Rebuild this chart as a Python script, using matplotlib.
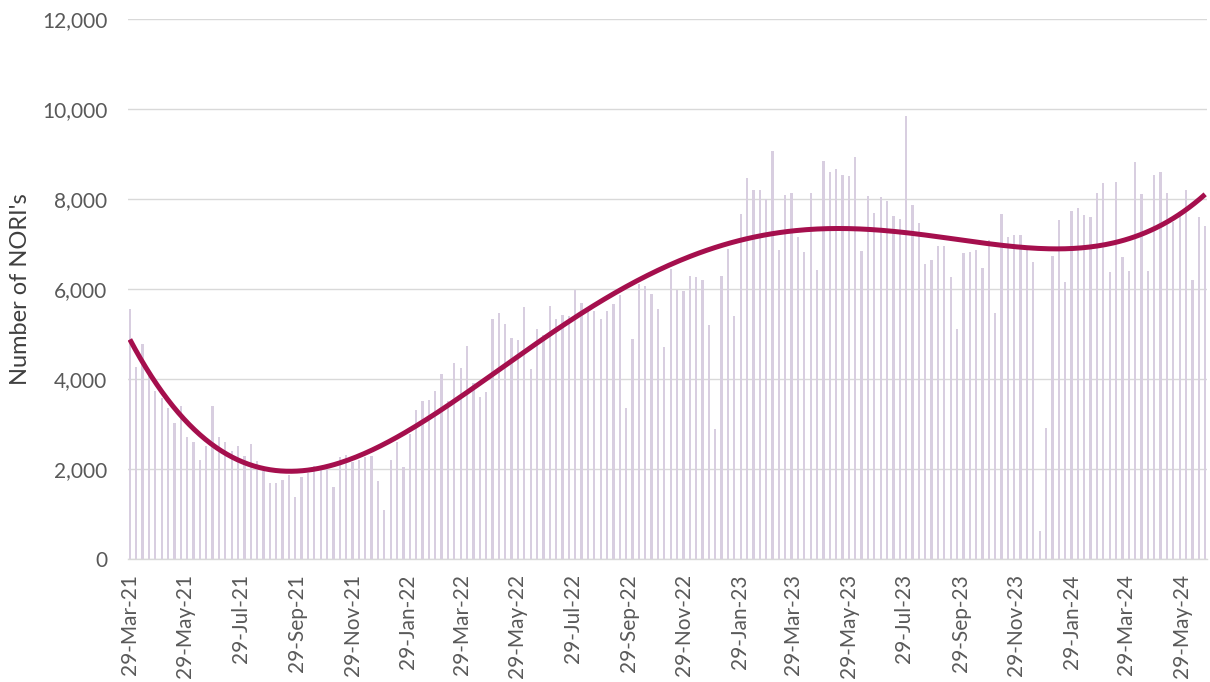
import numpy as np
import pandas as pd
import matplotlib
matplotlib.use('Agg')
import matplotlib.pyplot as plt
import matplotlib.dates as mdates
from matplotlib.ticker import FuncFormatter

# weekly NORI counts, starting 29-Mar-21
start_date = '2021-03-29'
nori_counts = [
    5550, 4270, 4780, 4100, 3730, 3570, 3350, 3030, 3400, 2720,
    2600, 2200, 2510, 3400, 2720, 2600, 2400, 2510, 2290, 2560,
    2180, 1950, 1680, 1680, 1760, 1870, 1370, 1815, 1900, 2060,
    1990, 1990, 1610, 2270, 2310, 2160, 2200, 2260, 2290, 1730,
    1090, 2210, 2590, 2040, 2780, 3310, 3500, 3530, 3740, 4110,
    3500, 4360, 4250, 4740, 3900, 3610, 3715, 5330, 5470, 5220,
    4920, 4860, 5590, 4230, 5100, 4980, 5620, 5330, 5430, 5390,
    5970, 5680, 5500, 5510, 5330, 5500, 5670, 5870, 3360, 4880,
    6110, 6070, 5890, 5560, 4720, 6440, 5980, 5950, 6290, 6260,
    6200, 5210, 2890, 6280, 6900, 5400, 7660, 8460, 8200, 8200,
    8010, 9070, 6870, 8090, 8140, 7160, 6820, 8140, 6420, 8850,
    8610, 8670, 8540, 8510, 8940, 6850, 8060, 7700, 8040, 7960,
    7620, 7560, 9840, 7870, 7470, 6560, 6640, 6960, 6960, 6270,
    5100, 6810, 6820, 6870, 6460, 7100, 5460, 7670, 7150, 7190,
    7190, 6870, 6610, 620, 2900, 6730, 7530, 6160, 7740, 7810,
    7640, 7590, 8130, 8360, 6370, 8380, 6720, 6400, 8820, 8110,
    6390, 8540, 8610, 8140, 7500, 7650, 8200, 6210, 7610, 7410,
]
trend_order = 4

weeks = pd.date_range(start_date, periods=len(nori_counts), freq='7D')
counts = np.array(nori_counts, dtype=float)

# polynomial trendline (as Excel does it)
days = (weeks - weeks[0]).days.values.astype(float)
coef = np.polyfit(days, counts, trend_order)
dd = np.linspace(days[0], days[-1], 400)
trend_dates = weeks[0] + pd.to_timedelta(dd, unit='D')
trend_vals = np.polyval(coef, dd)

plt.rcParams['font.family'] = ['Lato', 'DejaVu Sans']

fig = plt.figure(figsize=(12.1, 6.82), dpi=100)
ax = fig.add_axes([0.1058, 0.1804, 0.8917, 0.7917])

ax.bar(weeks, counts, width=2.5, color='#D8CEE0', zorder=2)
ax.plot(trend_dates, trend_vals, color='#A50F4D', lw=3.6, zorder=3,
        solid_capstyle='butt')

# axes
ax.set_ylim(0, 12000)
ax.set_yticks(np.arange(0, 12001, 2000))
ax.yaxis.set_major_formatter(FuncFormatter(lambda v, p: f'{int(v):,}'))
ax.grid(axis='y', color='#D9D9D9', lw=1.0, zorder=0)
ax.set_axisbelow(True)

tick_dates = pd.date_range('2021-03-29', periods=20, freq=pd.DateOffset(months=2))
ax.set_xticks(tick_dates)
ax.xaxis.set_major_formatter(mdates.DateFormatter('%d-%b-%y'))
ax.set_xlim(weeks[0] - pd.Timedelta(days=2), weeks[-1] + pd.Timedelta(days=2))

for s in ['top', 'right', 'left']:
    ax.spines[s].set_visible(False)
ax.spines['bottom'].set_color('#D9D9D9')
ax.spines['bottom'].set_linewidth(1.0)

ax.tick_params(axis='y', length=0, pad=15, labelsize=15, labelcolor='#595959')
ax.tick_params(axis='x', length=0, pad=11, labelsize=15, labelcolor='#595959',
               labelrotation=90)

ax.set_ylabel("Number of NORI's", fontsize=17, color='#3F3F3F', labelpad=8)

fig.savefig('out.png', dpi=100)
